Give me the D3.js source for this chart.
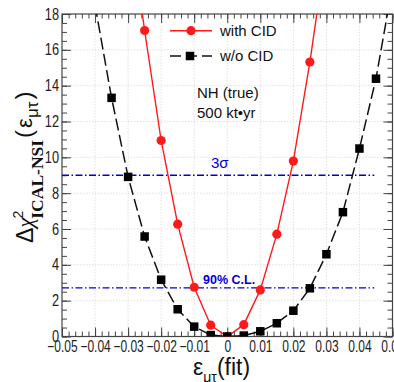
<!DOCTYPE html>
<html>
<head>
<meta charset="utf-8">
<script src="https://cdn.jsdelivr.net/npm/d3@7"></script>
<style>
html,body{margin:0;padding:0;background:#fff;}
svg{display:block;}
</style>
</head>
<body>
<svg id="chart" width="394" height="382"></svg>
<script>
// ---- data ----
const epsWithCID = [-0.03, -0.025, -0.02, -0.015, -0.01, -0.005, 0, 0.005, 0.01, 0.015, 0.02, 0.025, 0.03];
const chi2WithCID = [23.7, 17.08, 10.94, 6.27, 2.75, 0.63, 0.0, 0.66, 2.6, 5.71, 9.79, 15.32, 21.7];
const epsWoCID = [-0.04, -0.035, -0.03, -0.025, -0.02, -0.015, -0.01, -0.005, 0, 0.005, 0.01, 0.015, 0.02, 0.025, 0.03, 0.035, 0.04, 0.045, 0.05];
const chi2WoCID = [18.5, 13.32, 8.91, 5.58, 3.17, 1.52, 0.55, 0.08, 0.0, 0.05, 0.29, 0.74, 1.44, 2.69, 4.59, 6.94, 10.49, 14.39, 19.6];
const xTickValues = [-0.05, -0.04, -0.03, -0.02, -0.01, 0, 0.01, 0.02, 0.03, 0.04, 0.05];
const yTickValues = [0, 2, 4, 6, 8, 10, 12, 14, 16, 18];
const clLevels = [9, 2.71];
const clLabels = ["3σ", "90% C.L."];
const legendLabels = ["with CID", "w/o CID"];

// ---- layout ----
const svg = d3.select("#chart");
const L = 62, R = 392.5, T = 14, B = 336.5;
const x = d3.scaleLinear().domain([-0.05, 0.05]).range([L, R]);
const y = d3.scaleLinear().domain([0, 18]).range([B, T]);

svg.append("defs").append("clipPath").attr("id", "plotclip")
  .append("rect").attr("x", L).attr("y", T).attr("width", R - L).attr("height", B - T);

// grid
const grid = svg.append("g");
grid.selectAll("line.vg").data(xTickValues.slice(1, -1)).join("line")
  .attr("x1", d => x(d)).attr("x2", d => x(d)).attr("y1", T).attr("y2", B)
  .attr("stroke", "#d8d8d8").attr("stroke-width", 0.8).attr("stroke-dasharray", "1.5,1.5");
grid.selectAll("line.hg").data(yTickValues.slice(1, -1)).join("line")
  .attr("x1", L).attr("x2", R).attr("y1", d => y(d)).attr("y2", d => y(d))
  .attr("stroke", "#d8d8d8").attr("stroke-width", 0.8).attr("stroke-dasharray", "1.5,1.5");

// axes with inner ticks
const axisColor = "#444";
const xMinor = d3.range(-0.05, 0.0501, 0.002).map(v => +v.toFixed(3));
const yMinor = d3.range(0, 18.01, 0.5);
const fmtX = d => d === 0 ? "0" : d3.format(".2f")(d);

function styleAxis(g) {
  g.select(".domain").remove();
  g.selectAll("line").attr("stroke", axisColor).attr("stroke-width", 1);
}
// bottom major
const gxB = svg.append("g").attr("transform", `translate(0,${B})`)
  .call(d3.axisBottom(x).tickValues(xTickValues).tickSize(-9).tickPadding(14).tickFormat(fmtX));
styleAxis(gxB);
gxB.selectAll("text").attr("font-family", "Liberation Sans, Arial, sans-serif").attr("font-size", 16)
  .attr("fill", "#222").attr("transform", "scale(0.75,1)").attr("dy", "0.12em");
// bottom minor
svg.append("g").attr("transform", `translate(0,${B})`)
  .call(d3.axisBottom(x).tickValues(xMinor).tickSize(-5).tickFormat(""))
  .call(styleAxis);
// top
svg.append("g").attr("transform", `translate(0,${T})`)
  .call(d3.axisTop(x).tickValues(xTickValues).tickSize(-9).tickFormat("")).call(styleAxis);
svg.append("g").attr("transform", `translate(0,${T})`)
  .call(d3.axisTop(x).tickValues(xMinor).tickSize(-4.5).tickFormat("")).call(styleAxis);
// left
const gyL = svg.append("g").attr("transform", `translate(${L},0)`)
  .call(d3.axisLeft(y).tickValues(yTickValues).tickSize(-9).tickPadding(2).tickFormat(d3.format("d")));
styleAxis(gyL);
gyL.selectAll("text").attr("font-family", "Liberation Sans, Arial, sans-serif").attr("font-size", 16)
  .attr("fill", "#222").attr("transform", "scale(0.8,1)").attr("x", -3 / 0.8);
svg.append("g").attr("transform", `translate(${L},0)`)
  .call(d3.axisLeft(y).tickValues(yMinor).tickSize(-5).tickFormat("")).call(styleAxis);
// right
svg.append("g").attr("transform", `translate(${R},0)`)
  .call(d3.axisRight(y).tickValues(yTickValues).tickSize(-9).tickFormat("")).call(styleAxis);
svg.append("g").attr("transform", `translate(${R},0)`)
  .call(d3.axisRight(y).tickValues(yMinor).tickSize(-5).tickFormat("")).call(styleAxis);

// frame
svg.append("rect").attr("x", L).attr("y", T).attr("width", R - L).attr("height", B - T)
  .attr("fill", "none").attr("stroke", axisColor).attr("stroke-width", 1.2);

// CL lines
const blue = "#0000d4";
const plot = svg.append("g").attr("clip-path", "url(#plotclip)");
plot.selectAll("line.cl").data(clLevels).join("line")
  .attr("x1", x(-0.05)).attr("x2", x(0.0445))
  .attr("y1", d => y(d)).attr("y2", d => y(d))
  .attr("stroke", blue).attr("stroke-width", 1.3).attr("stroke-dasharray", "7,2.5,1.5,2.5");

// series
const withData = epsWithCID.map((e, i) => ({e, v: chi2WithCID[i]}));
const woData = epsWoCID.map((e, i) => ({e, v: chi2WoCID[i]}));
const line = d3.line().x(d => x(d.e)).y(d => y(d.v));

plot.append("path").datum(woData).attr("d", line).attr("fill", "none")
  .attr("stroke", "#111").attr("stroke-width", 1.5).attr("stroke-dasharray", "12,4.5");
plot.append("path").datum(withData).attr("d", line).attr("fill", "none")
  .attr("stroke", "#ff1a1a").attr("stroke-width", 1.4);

plot.selectAll("circle.w").data(withData.filter(d => d.v <= 18)).join("circle")
  .attr("cx", d => x(d.e)).attr("cy", d => y(d.v)).attr("r", 4.6).attr("fill", "#ff1a1a");
const sq = 8.5;
plot.selectAll("rect.wo").data(woData.filter(d => d.v <= 18)).join("rect")
  .attr("x", d => x(d.e) - sq / 2).attr("y", d => y(d.v) - sq / 2)
  .attr("width", sq).attr("height", sq).attr("fill", "#000");

// CL labels
svg.append("text").attr("x", 211).attr("y", 168).text(clLabels[0])
  .attr("font-family", "Liberation Sans, Arial, sans-serif").attr("font-size", 15).attr("fill", blue);
svg.append("text").attr("x", 203).attr("y", 284).text(clLabels[1])
  .attr("font-family", "Liberation Sans, Arial, sans-serif").attr("font-size", 12.5)
  .attr("font-weight", "bold").attr("fill", blue);

// legend
const lg = svg.append("g").attr("font-family", "Liberation Sans, Arial, sans-serif").attr("font-size", 15).attr("fill", "#111");
lg.append("line").attr("x1", 170).attr("x2", 212).attr("y1", 30.7).attr("y2", 30.7)
  .attr("stroke", "#ff1a1a").attr("stroke-width", 1.4);
lg.append("circle").attr("cx", 191).attr("cy", 30.7).attr("r", 4.6).attr("fill", "#ff1a1a");
lg.append("text").attr("x", 220).attr("y", 36).text(legendLabels[0]);
lg.append("line").attr("x1", 170).attr("x2", 212).attr("y1", 56).attr("y2", 56)
  .attr("stroke", "#111").attr("stroke-width", 1.5).attr("stroke-dasharray", "11,5");
lg.append("rect").attr("x", 190 - sq / 2).attr("y", 56 - sq / 2).attr("width", sq).attr("height", sq).attr("fill", "#000");
lg.append("text").attr("x", 220).attr("y", 61).text(legendLabels[1]);

// annotation
const ann = svg.append("g").attr("font-family", "Liberation Sans, Arial, sans-serif").attr("font-size", 15).attr("fill", "#111");
ann.append("text").attr("x", 197).attr("y", 98).text("NH (true)");
ann.append("text").attr("x", 197).attr("y", 118).text("500 kt\u2022yr");

// x title
const xt = svg.append("text").attr("x", 193).attr("y", 375)
  .attr("font-family", "Liberation Sans, Arial, sans-serif").attr("font-size", 23).attr("fill", "#111");
xt.append("tspan").text("ε");
xt.append("tspan").attr("font-size", 14).attr("dy", 7).text("μτ");
xt.append("tspan").attr("dy", -7).text("(fit)");

// y title
const yt = svg.append("text").attr("transform", "translate(33,243) rotate(-90)")
  .attr("font-family", "Liberation Sans, Arial, sans-serif").attr("font-size", 23).attr("fill", "#111");
yt.append("tspan").text("Δ");
yt.append("tspan").attr("font-family", "Liberation Serif, Times New Roman, serif").attr("font-style", "italic").text("χ");
yt.append("tspan").attr("font-size", 14).attr("dy", -10).attr("dx", -1).text("2");
yt.append("tspan").attr("font-family", "Liberation Serif, Times New Roman, serif").attr("font-weight", "bold")
  .attr("font-size", 17.5).attr("dy", 20).attr("dx", -8).text("ICAL-NSI");
yt.append("tspan").attr("font-size", 24).attr("dy", -11).attr("dx", 2).text("(");
yt.append("tspan").attr("font-size", 22).attr("dx", 2).text("ε");
yt.append("tspan").attr("font-size", 17).attr("dy", 6).text("μτ");
yt.append("tspan").attr("font-size", 24).attr("dy", -6).attr("dx", 2).text(")");
</script>
</body>
</html>
